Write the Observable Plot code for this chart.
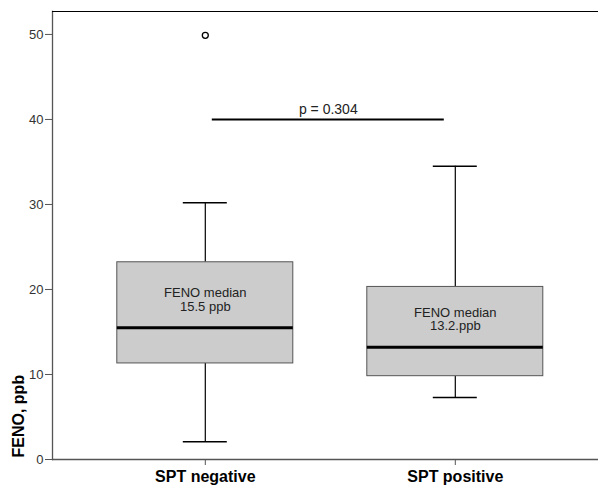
<!DOCTYPE html>
<html>
<head>
<meta charset="utf-8">
<script src="https://cdn.jsdelivr.net/npm/d3@7"></script>
<script src="https://cdn.jsdelivr.net/npm/@observablehq/plot@0.6"></script>
<style>
  html, body { margin: 0; padding: 0; background: #fff; }
  #chart svg { display: block; font-family: "Liberation Sans", Arial, sans-serif; }
</style>
</head>
<body>
<div id="chart"></div>
<script>
// ---- data ----
const groups = ["SPT negative", "SPT positive"];
const lowerWhisker = [2.1, 7.3];
const q1 = [11.3, 9.8];
const median = [15.5, 13.2];
const q3 = [23.2, 20.3];
const upperWhisker = [30.2, 34.5];
const outlierGroups = ["SPT negative"];
const outlierValues = [49.9];
const boxLabels = ["FENO median\n15.5 ppb", "FENO median\n13.2.ppb"];
const boxLabelY = [18.8, 16.5];
const pText = "p = 0.304";
const pLineY = 40;
const yTicks = [0, 10, 20, 30, 40, 50];
const yMax = 52.7;
const yLabel = "FENO, ppb";

const boxes = groups.map((g, i) => ({
  group: g, lo: lowerWhisker[i], q1: q1[i], med: median[i], q3: q3[i], hi: upperWhisker[i],
  label: boxLabels[i], labelY: boxLabelY[i]
}));
const outliers = outlierGroups.map((g, i) => ({group: g, value: outlierValues[i]}));
const pRow = [{from: groups[0], to: groups[1], y: pLineY, text: pText}];

const chart = Plot.plot({
  width: 598,
  height: 486,
  marginLeft: 52,
  marginRight: 0,
  marginTop: 11,
  marginBottom: 27,
  style: {fontFamily: "'Liberation Sans', Arial, sans-serif", background: "#fff"},
  x: {domain: groups, type: "band", paddingInner: 0.296, paddingOuter: 0.24, align: 0.54, round: false, label: null},
  y: {domain: [0, yMax], label: null},
  marks: [
    // axes
    Plot.axisY({ticks: yTicks, tickSize: 7, tickPadding: 2, fontSize: 13, color: "#333", stroke: "#555", label: null}),
    Plot.frame({anchor: "left", stroke: "#555", strokeWidth: 1.3}),
    Plot.axisX({tickSize: 6, tickPadding: 5, fontSize: 16, fontWeight: "bold", color: "#000", stroke: "#555", label: null}),
    Plot.ruleY([0], {stroke: "#555", strokeWidth: 1.3}),
    Plot.ruleY([yMax], {stroke: "#000", strokeWidth: 1.2}),
    Plot.text([yLabel], {frameAnchor: "bottom-left", rotate: -90, textAnchor: "start", dx: -29, dy: -2,
      fontSize: 16, fontWeight: "bold", fill: "#000"}),
    // whiskers
    Plot.ruleX(boxes, {x: "group", y1: "lo", y2: "q1", stroke: "#000", strokeWidth: 1.2}),
    Plot.ruleX(boxes, {x: "group", y1: "q3", y2: "hi", stroke: "#000", strokeWidth: 1.2}),
    Plot.tickY(boxes, {x: "group", y: "lo", insetLeft: 66, insetRight: 66, stroke: "#000", strokeWidth: 1.5}),
    Plot.tickY(boxes, {x: "group", y: "hi", insetLeft: 66, insetRight: 66, stroke: "#000", strokeWidth: 1.5}),
    // boxes
    Plot.barY(boxes, {x: "group", y1: "q1", y2: "q3", fill: "#cccccc", stroke: "#555", strokeWidth: 1}),
    Plot.tickY(boxes, {x: "group", y: "med", stroke: "#000", strokeWidth: 3}),
    Plot.text(boxes, {x: "group", y: "labelY", text: "label", fontSize: 13, fill: "#222", lineHeight: 1.05}),
    // outlier
    Plot.dot(outliers, {x: "group", y: "value", r: 3, stroke: "#000", fill: "#fff", strokeWidth: 1.3}),
    // p-value bracket
    Plot.ruleY(pRow, {x1: "from", x2: "to", y: "y", insetLeft: 95, insetRight: 99, stroke: "#000", strokeWidth: 2}),
    Plot.text(pRow, {x: "from", y: "y", text: "text", dx: 123, dy: -5, lineAnchor: "bottom", fontSize: 14, fill: "#222"})
  ]
});
document.getElementById("chart").appendChild(chart);
</script>
</body>
</html>
